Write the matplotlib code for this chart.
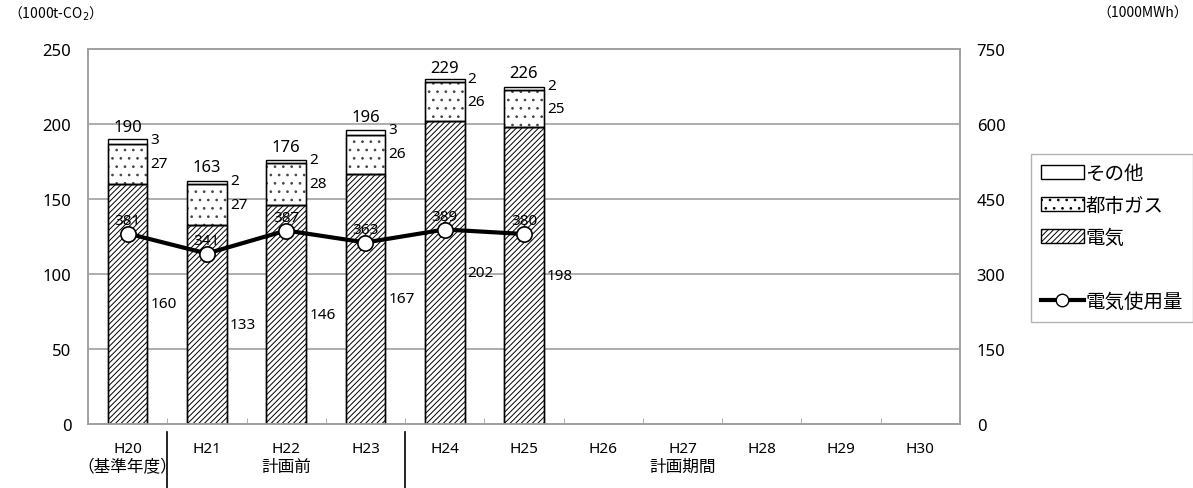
import matplotlib.pyplot as plt
import matplotlib.patches as ptc
import matplotlib.transforms as mtrans
from matplotlib.lines import Line2D
import numpy as np

plt.rcParams['font.family'] = ['Noto Sans', 'Noto Sans CJK JP']
plt.rcParams['hatch.linewidth'] = 0.7

# data
years = ["H20", "H21", "H22", "H23", "H24", "H25", "H26", "H27", "H28", "H29", "H30"]
elec = [160, 133, 146, 167, 202, 198]
gas = [27, 27, 28, 26, 26, 25]
other = [3, 2, 2, 3, 2, 2]
total = [190, 163, 176, 196, 229, 226]
usage = [381, 341, 387, 363, 389, 380]

fig = plt.figure(figsize=(11.93, 4.89), dpi=100)
ax = fig.add_axes([88 / 1193, 1 - 425 / 489, 872 / 1193, 375 / 489])
ax2 = ax.twinx()

x = np.arange(len(elec))
w = 0.5
ax.bar(x, elec, w, color="white", edgecolor="black", hatch="//////", lw=1.0, zorder=2)
ax.bar(x, gas, w, bottom=elec, color="white", edgecolor="#444444", hatch="..", lw=1.0, zorder=2)
ax.bar(x, other, w, bottom=np.array(elec) + np.array(gas), color="white", edgecolor="black", lw=1.0, zorder=2)
# outline of segments
ax.bar(x, elec, w, color="none", edgecolor="black", lw=1.0, zorder=3)
ax.bar(x, gas, w, bottom=elec, color="none", edgecolor="black", lw=1.0, zorder=3)

fs = 11
for i in range(len(elec)):
    xr = x[i] + w / 2 + 0.04
    ax.text(xr, elec[i] / 2, str(elec[i]), fontsize=fs, ha="left", va="center")
    ax.text(xr, elec[i] + gas[i] / 2, str(gas[i]), fontsize=fs, ha="left", va="center")
    ax.text(xr, elec[i] + gas[i] + other[i] / 2 + 1.5, str(other[i]), fontsize=fs, ha="left", va="center")
    ax.text(x[i], total[i] + 3, str(total[i]), fontsize=fs + 1, ha="center", va="bottom")

ax2.plot(x, usage, color="black", lw=3, marker="o", ms=11, mfc="white", mec="black", mew=1.2, zorder=5)
for i in range(len(usage)):
    ax2.text(x[i], usage[i] + 12, str(usage[i]), fontsize=fs, ha="center", va="bottom", zorder=6)

ax.set_xlim(-0.5, len(years) - 0.5)
ax.set_ylim(0, 250)
ax.set_yticks(np.arange(0, 251, 50))
ax2.set_ylim(0, 750)
ax2.set_yticks(np.arange(0, 751, 150))
ax.yaxis.grid(True, color="#a0a0a0", lw=1.2, zorder=0)
ax.set_axisbelow(True)
ax.set_xticks(np.arange(len(years)))
ax.set_xticklabels(years)
ax.set_xticks(np.arange(len(years) + 1) - 0.5, minor=True)
ax.tick_params(axis="x", which="major", length=0, labelsize=fs, pad=12)
ax.tick_params(axis="x", which="minor", length=4, direction="in", color="#a0a0a0")
ax.tick_params(axis="y", length=0, labelsize=fs + 1, pad=12)
ax2.tick_params(axis="y", length=0, labelsize=fs + 1, pad=12)
for a in (ax, ax2):
    for s in a.spines.values():
        s.set_color("#a0a0a0")
        s.set_linewidth(1.2)

# group labels
trans = mtrans.blended_transform_factory(ax.transData, ax.transAxes)
for xs in (0.5, 3.5):
    ax.add_line(Line2D([xs, xs], [-0.02, -0.175], transform=trans, color="black", lw=1.2, clip_on=False))
ax.text(0, -0.115, "（基準年度）", transform=trans, ha="center", va="center", fontsize=fs + 1)
ax.text(2, -0.115, "計画前", transform=trans, ha="center", va="center", fontsize=fs + 1)
ax.text(7, -0.115, "計画期間", transform=trans, ha="center", va="center", fontsize=fs + 1)

fig.text(8 / 1193, 1 - 14 / 489, "（1000t-CO$_2$）", fontsize=10, ha="left", va="center",
         family="Noto Sans CJK JP")
fig.text(1188 / 1193, 1 - 14 / 489, "（1000MWh）", fontsize=10, ha="right", va="center",
         family="Noto Sans CJK JP")

handles = [
    ptc.Patch(facecolor="white", edgecolor="black"),
    ptc.Patch(facecolor="white", edgecolor="black", hatch=".."),
    ptc.Patch(facecolor="white", edgecolor="black", hatch="//////"),
    ptc.Patch(facecolor="none", edgecolor="none"),
    Line2D([], [], color="black", lw=3, marker="o", ms=9, mfc="white", mec="black"),
]
labels = ["その他", "都市ガス", "電気", "", "電気使用量"]
leg = fig.legend(handles, labels, loc="upper left", bbox_to_anchor=(1031 / 1193, 1 - 155 / 489),
                 fontsize=14, frameon=True, fancybox=False, edgecolor="#a0a0a0",
                 handlelength=2.2, handletextpad=0.1, borderpad=0.5, labelspacing=0.62, borderaxespad=0)
leg.get_frame().set_linewidth(1.0)

fig.savefig("out.png", dpi=100)
